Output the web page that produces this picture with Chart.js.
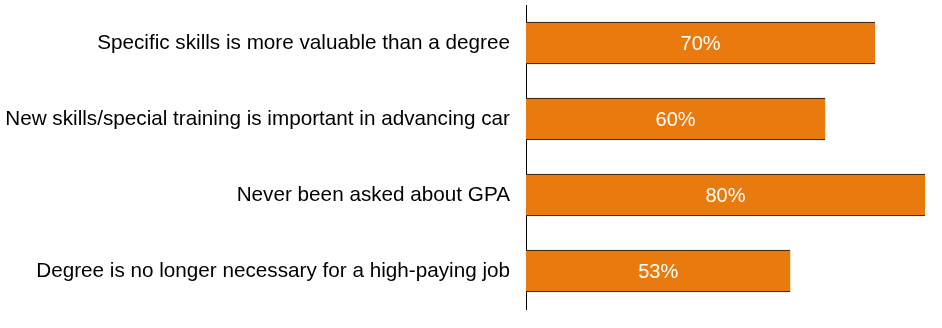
<!DOCTYPE html>
<html lang="en">
<head>
    <meta charset="UTF-8">
    <title>Skills vs Degree</title>
    <script src="https://cdn.jsdelivr.net/npm/chart.js"></script>
    <style>
        body {
            margin: 0;
            background-color: white;
        }
        .chart-container {
            position: relative;
            width: 942px;
            height: 328px;
        }
    </style>
</head>
<body>
    <div class="chart-container">
        <canvas id="skillsChart"></canvas>
    </div>

    <script>
        // Chart data
        const categories = [
            'Specific skills is more valuable than a degree',
            'New skills/special training is important in advancing car',
            'Never been asked about GPA',
            'Degree is no longer necessary for a high-paying job'
        ];
        const values = [70, 60, 80, 53];

        // Draws the white percentage in the middle of each bar
        const valueLabels = {
            id: 'valueLabels',
            afterDatasetsDraw(chart) {
                const ctx = chart.ctx;
                const meta = chart.getDatasetMeta(0);
                ctx.save();
                ctx.fillStyle = '#ffffff';
                ctx.font = '20px "Liberation Sans", Arial, sans-serif';
                ctx.textAlign = 'center';
                ctx.textBaseline = 'middle';
                meta.data.forEach((bar, i) => {
                    const cx = (bar.x + bar.base) / 2;
                    ctx.fillText(values[i] + '%', cx, bar.y + 1);
                });
                ctx.restore();
            }
        };

        const ctx = document.getElementById('skillsChart').getContext('2d');
        new Chart(ctx, {
            type: 'bar',
            data: {
                labels: categories,
                datasets: [{
                    data: values,
                    backgroundColor: '#E97A0E',
                    borderColor: '#111111',
                    borderWidth: { top: 1, bottom: 1, left: 0, right: 0 },
                    borderSkipped: false,
                    barThickness: 42
                }]
            },
            options: {
                indexAxis: 'y',
                responsive: true,
                maintainAspectRatio: false,
                animation: false,
                layout: {
                    padding: { top: 5, bottom: 19, left: 0, right: 17 }
                },
                scales: {
                    x: {
                        display: false,
                        min: 0,
                        max: 80
                    },
                    y: {
                        grid: { display: false, drawTicks: false },
                        border: { display: true, color: '#000000', width: 1 },
                        ticks: {
                            color: '#000000',
                            padding: 16,
                            font: { family: '"Liberation Sans", Arial, sans-serif', size: 20.7 }
                        },
                        afterFit: (scale) => {
                            scale.width = 526;
                            scale.paddingTop = 0;
                            scale.paddingBottom = 0;
                        }
                    }
                },
                plugins: {
                    legend: { display: false },
                    tooltip: { enabled: false }
                }
            },
            plugins: [valueLabels]
        });
    </script>
</body>
</html>
